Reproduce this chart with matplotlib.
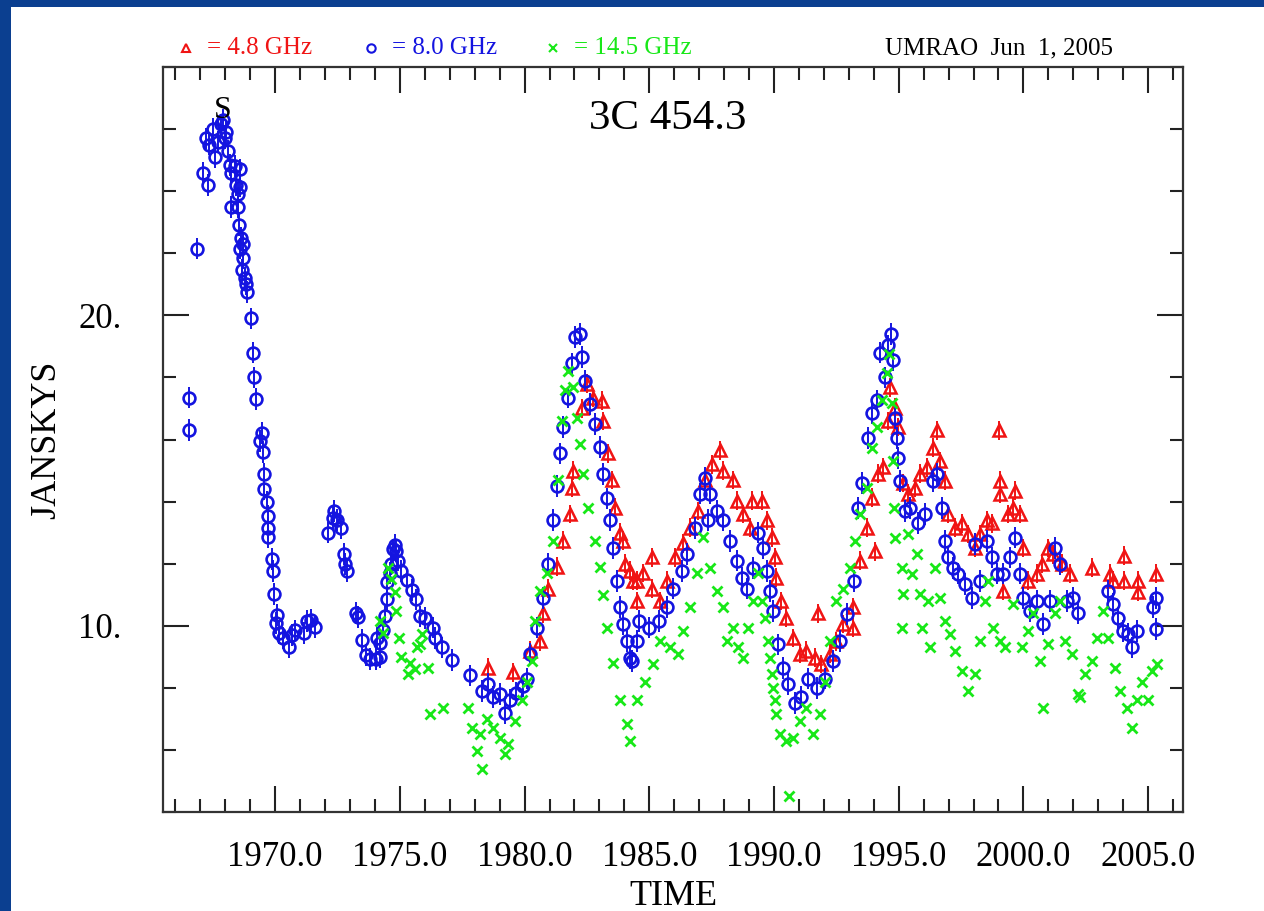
import matplotlib
matplotlib.use("Agg")
import matplotlib.pyplot as plt
from matplotlib.patches import Rectangle
from matplotlib.lines import Line2D
from matplotlib.ticker import MultipleLocator, FixedLocator

plt.rcParams['font.family'] = ['Liberation Serif', 'DejaVu Serif']

# 8.0 GHz (blue)
t_8 = [1966.55, 1966.55, 1966.85, 1967.1, 1967.3, 1967.23, 1967.36, 1967.5, 1967.6, 1967.7,
       1967.83, 1967.9, 1967.97, 1968.04, 1968.1, 1968.17, 1968.24, 1968.24, 1968.37, 1968.44,
       1968.5, 1968.51, 1968.54, 1968.58, 1968.58, 1968.58, 1968.62, 1968.65, 1968.72, 1968.72,
       1968.78, 1968.82, 1968.88, 1969.02, 1969.09, 1969.16, 1969.22, 1969.39, 1969.46, 1969.5,
       1969.55, 1969.56, 1969.66, 1969.7, 1969.73, 1969.73, 1969.89, 1969.93, 1969.96, 1970.04,
       1970.07, 1970.16, 1970.31, 1970.54, 1970.67, 1970.8, 1971.15, 1971.28, 1971.44, 1971.58,
       1972.12, 1972.3, 1972.37, 1972.46, 1972.64, 1972.77, 1972.8, 1972.86, 1973.24, 1973.33,
       1973.48, 1973.64, 1973.82, 1974.05, 1974.1, 1974.19, 1974.2, 1974.32, 1974.39, 1974.5,
       1974.5, 1974.59, 1974.66, 1974.72, 1974.79, 1974.86, 1974.93, 1975.06, 1975.27, 1975.47,
       1975.63, 1975.8, 1976.0, 1976.33, 1976.4, 1976.7, 1977.1, 1977.8, 1978.3, 1978.55,
       1978.75, 1979.0, 1979.2, 1979.4, 1979.65, 1979.92, 1980.1, 1980.2, 1980.5, 1980.74,
       1980.94, 1981.14, 1981.3, 1981.42, 1981.54, 1981.74, 1981.9, 1982.02, 1982.22, 1982.3,
       1982.42, 1982.62, 1982.82, 1983.02, 1983.14, 1983.3, 1983.42, 1983.55, 1983.7, 1983.82,
       1983.94, 1984.1, 1984.22, 1984.3, 1984.5, 1984.6, 1985.0, 1985.4, 1985.7, 1985.95,
       1986.3, 1986.5, 1986.83, 1987.03, 1987.23, 1987.35, 1987.43, 1987.7, 1987.95, 1988.23,
       1988.5, 1988.7, 1988.9, 1989.16, 1989.36, 1989.56, 1989.7, 1989.83, 1989.96, 1990.16,
       1990.36, 1990.56, 1990.83, 1991.1, 1991.37, 1991.72, 1992.04, 1992.36, 1992.64, 1992.93,
       1993.2, 1993.37, 1993.53, 1993.77, 1993.93, 1994.13, 1994.25, 1994.45, 1994.57, 1994.69,
       1994.77, 1994.85, 1994.93, 1994.97, 1995.05, 1995.25, 1995.45, 1995.77, 1996.05, 1996.37,
       1996.53, 1996.73, 1996.86, 1996.98, 1997.18, 1997.38, 1997.66, 1997.94, 1998.06, 1998.26,
       1998.54, 1998.74, 1998.94, 1999.18, 1999.46, 1999.66, 1999.86, 1999.98, 2000.26, 2000.54,
       2000.78, 2001.06, 2001.26, 2001.46, 2001.74, 2001.98, 2002.18, 2003.4, 2003.6, 2003.8,
       2004.0, 2004.2, 2004.36, 2004.56, 2005.2, 2005.32, 2005.32]
jy_8 = [17.35, 16.3, 22.15, 24.6, 24.2, 25.7, 25.5, 26.0, 25.1, 25.6,
        26.15, 26.3, 25.7, 25.9, 25.3, 24.85, 24.6, 23.5, 24.8, 24.2,
        23.5, 23.9, 22.9, 24.7, 24.15, 22.15, 22.5, 21.45, 22.3, 21.85,
        21.2, 21.0, 20.75, 19.9, 18.8, 18.0, 17.3, 15.95, 16.2, 15.6,
        14.9, 14.4, 14.0, 13.55, 13.15, 12.85, 12.15, 11.77, 11.03, 10.1,
        10.35, 9.77, 9.6, 9.3, 9.7, 9.85, 9.77, 10.15, 10.2, 9.97,
        13.0, 13.46, 13.7, 13.4, 13.15, 12.3, 12.0, 11.77, 10.4, 10.28,
        9.54, 9.05, 8.92, 8.92, 9.6, 9.0, 9.46, 9.85, 10.3, 10.85,
        11.4, 11.7, 12.0, 12.46, 12.6, 12.4, 12.1, 11.77, 11.46, 11.15,
        10.85, 10.3, 10.26, 9.94, 9.6, 9.3, 8.9, 8.4, 7.9, 8.13,
        7.7, 7.8, 7.2, 7.6, 7.84, 8.05, 8.3, 9.1, 9.94, 10.9,
        12.0, 13.4, 14.5, 15.55, 16.4, 17.35, 18.45, 19.3, 19.4, 18.65,
        17.9, 17.15, 16.5, 15.75, 14.9, 14.1, 13.4, 12.5, 11.45, 10.6,
        10.06, 9.5, 8.97, 8.87, 9.5, 10.16, 9.94, 10.16, 10.6, 11.2,
        11.77, 12.3, 13.16, 14.26, 14.77, 13.4, 14.26, 13.7, 13.4, 12.74,
        12.1, 11.55, 11.2, 11.87, 13.0, 12.5, 11.77, 11.13, 10.48, 9.4,
        8.65, 8.13, 7.5, 7.7, 8.3, 8.0, 8.3, 8.87, 9.5, 10.39,
        11.45, 13.8, 14.6, 16.06, 16.84, 17.26, 18.8, 18.0, 19.03, 19.4,
        18.55, 16.7, 16.06, 15.4, 14.67, 13.7, 13.8, 13.3, 13.6, 14.67,
        14.9, 13.8, 12.74, 12.2, 11.87, 11.68, 11.35, 10.9, 12.64, 11.45,
        12.74, 12.2, 11.68, 11.68, 12.2, 12.84, 11.68, 10.9, 10.48, 10.8,
        10.06, 10.8, 12.5, 12.0, 10.8, 10.9, 10.4, 11.13, 10.7, 10.26,
        9.84, 9.74, 9.3, 9.84, 10.6, 10.9, 9.9]

# 4.8 GHz (red)
t_48 = [1978.53, 1979.53, 1980.2, 1980.6, 1980.74, 1980.94, 1981.3, 1981.54, 1981.82, 1981.9,
        1981.94, 1982.3, 1982.5, 1982.74, 1983.1, 1983.14, 1983.34, 1983.5, 1983.62, 1983.82,
        1983.94, 1984.02, 1984.22, 1984.35, 1984.5, 1984.5, 1984.75, 1985.1, 1985.1, 1985.43,
        1985.7, 1986.03, 1986.35, 1986.63, 1986.95, 1987.23, 1987.5, 1987.83, 1987.95, 1988.36,
        1988.5, 1988.76, 1989.03, 1989.1, 1989.5, 1989.7, 1989.9, 1990.04, 1990.1, 1990.3,
        1990.5, 1990.76, 1991.04, 1991.3, 1991.63, 1991.76, 1991.9, 1992.23, 1992.5, 1992.77,
        1993.17, 1993.17, 1993.45, 1993.73, 1993.93, 1994.05, 1994.17, 1994.37, 1994.57, 1994.65,
        1994.85, 1994.97, 1995.17, 1995.37, 1995.65, 1995.85, 1996.13, 1996.37, 1996.53, 1996.65,
        1996.86, 1996.98, 1997.26, 1997.54, 1997.78, 1998.06, 1998.26, 1998.54, 1998.74, 1999.02,
        1999.06, 1999.06, 1999.18, 1999.38, 1999.58, 1999.66, 1999.86, 1999.98, 2000.18, 2000.54,
        2000.74, 2000.98, 2001.18, 2001.54, 2001.86, 2002.75, 2003.47, 2003.6, 2004.04, 2004.04,
        2004.6, 2004.6, 2005.32]
jy_48 = [8.65, 8.5, 9.2, 9.5, 10.4, 11.2, 11.9, 12.74, 13.6, 14.45,
         15.0, 17.0, 17.8, 17.35, 17.25, 16.6, 15.55, 14.7, 13.8, 13.0,
         12.74, 12.0, 11.77, 11.45, 10.8, 11.45, 11.7, 12.2, 11.2, 10.8,
         11.45, 12.2, 12.65, 13.16, 13.7, 14.7, 15.2, 15.65, 15.0, 14.7,
         14.03, 13.6, 13.16, 14.03, 14.03, 13.4, 12.85, 12.2, 11.55, 10.8,
         10.26, 9.6, 9.1, 9.2, 8.97, 10.4, 8.77, 9.1, 9.5, 10.06,
         10.6, 9.94, 12.1, 13.16, 14.13, 12.4, 14.9, 15.1, 16.6, 17.68,
         17.03, 16.4, 14.6, 14.26, 14.45, 14.9, 15.1, 15.74, 16.3, 15.3,
         14.67, 13.6, 13.16, 13.3, 12.96, 12.5, 12.96, 13.4, 13.3, 16.3,
         14.67, 14.26, 11.13, 13.6, 13.8, 14.35, 13.6, 12.5, 11.45, 11.68,
         12.0, 12.5, 12.3, 12.0, 11.68, 11.87, 11.68, 11.45, 12.26, 11.45,
         11.45, 11.1, 11.68]

# 14.5 GHz (green)
t_145 = [1974.19, 1974.32, 1974.52, 1974.66, 1974.8, 1974.86, 1974.96, 1975.04, 1975.33, 1975.4,
         1975.6, 1975.7, 1975.8, 1975.9, 1976.13, 1976.2, 1976.73, 1977.73, 1977.9, 1978.1,
         1978.2, 1978.3, 1978.5, 1978.73, 1979.0, 1979.2, 1979.33, 1979.6, 1979.9, 1980.1,
         1980.3, 1980.42, 1980.6, 1980.9, 1981.14, 1981.34, 1981.5, 1981.62, 1981.74, 1981.94,
         1982.1, 1982.22, 1982.34, 1982.54, 1982.82, 1983.02, 1983.14, 1983.3, 1983.55, 1983.82,
         1984.1, 1984.22, 1984.5, 1984.83, 1985.16, 1985.43, 1985.83, 1986.16, 1986.36, 1986.63,
         1986.9, 1987.16, 1987.43, 1987.7, 1987.95, 1988.1, 1988.36, 1988.56, 1988.76, 1988.96,
         1989.16, 1989.36, 1989.5, 1989.63, 1989.76, 1989.83, 1989.9, 1989.96, 1990.03, 1990.1,
         1990.23, 1990.5, 1990.6, 1990.76, 1991.04, 1991.3, 1991.56, 1991.84, 1992.04, 1992.23,
         1992.5, 1992.77, 1993.05, 1993.25, 1993.45, 1993.73, 1993.93, 1994.13, 1994.33, 1994.53,
         1994.61, 1994.73, 1994.77, 1994.81, 1994.85, 1995.13, 1995.13, 1995.17, 1995.37, 1995.53,
         1995.73, 1995.85, 1995.93, 1996.17, 1996.25, 1996.45, 1996.65, 1996.86, 1997.06, 1997.26,
         1997.54, 1997.78, 1998.06, 1998.26, 1998.46, 1998.58, 1998.78, 1999.06, 1999.26, 1999.58,
         1999.94, 2000.18, 2000.38, 2000.66, 2000.78, 2000.98, 2001.26, 2001.46, 2001.66, 2001.94,
         2002.18, 2002.26, 2002.46, 2002.75, 2002.96, 2003.2, 2003.4, 2003.67, 2003.87, 2004.16,
         2004.36, 2004.56, 2004.76, 2005.0, 2005.16, 2005.36]
jy_145 = [10.15, 9.77, 11.85, 11.5, 11.1, 10.46, 9.6, 9.0, 8.46, 8.8,
          8.6, 9.3, 9.4, 9.74, 8.65, 7.16, 7.35, 7.35, 6.7, 5.97,
          6.5, 5.4, 7.0, 6.7, 6.4, 5.87, 6.2, 6.94, 7.6, 8.2,
          8.87, 10.16, 11.13, 11.7, 12.74, 14.7, 16.6, 17.58, 18.2, 17.7,
          16.7, 15.87, 14.9, 13.8, 12.74, 11.9, 11.0, 9.94, 8.8, 7.6,
          6.84, 6.3, 7.6, 8.2, 8.77, 9.5, 9.3, 9.1, 9.84, 10.6,
          11.7, 12.85, 11.87, 11.13, 10.6, 9.5, 9.94, 9.3, 8.97, 9.94,
          10.8, 11.7, 10.8, 10.26, 9.5, 8.97, 8.45, 8.0, 7.6, 7.16,
          6.5, 6.3, 4.5, 6.4, 6.94, 7.35, 6.5, 7.16, 8.2, 9.5,
          10.8, 11.2, 11.87, 12.74, 13.6, 14.45, 15.74, 16.4, 17.26, 18.13,
          18.77, 17.16, 15.3, 13.8, 12.84, 11.87, 9.94, 11.03, 12.96, 11.68,
          12.3, 11.03, 9.94, 10.8, 9.3, 11.87, 10.9, 10.16, 9.74, 9.2,
          8.55, 7.9, 8.45, 9.5, 10.8, 11.45, 9.94, 9.5, 9.3, 10.7,
          9.3, 9.84, 10.4, 8.87, 7.35, 9.4, 10.4, 10.8, 9.5, 9.1,
          7.8, 7.7, 8.45, 8.87, 9.6, 10.48, 9.6, 8.65, 7.9, 7.35,
          6.7, 7.6, 8.2, 7.6, 8.55, 8.77]

err_8 = 0.35
err_48 = 0.3

RED = '#f01414'
BLUE = '#1414e0'
GREEN = '#18e818'

W, H = 1264, 911
fig = plt.figure(figsize=(W / 100, H / 100), dpi=100, facecolor='#0b3f90')
fig.add_artist(Rectangle((11 / W, 0), 1, 1 - 7 / H, transform=fig.transFigure,
                         facecolor='white', edgecolor='none', zorder=-10))

ax = fig.add_axes([163 / W, 1 - 812 / H, 1020 / W, 745 / H])
ax.set_facecolor('white')

ax.errorbar(t_48, jy_48, yerr=err_48, fmt='^', mfc='none', mec=RED, ecolor=RED,
            ms=9, mew=1.8, elinewidth=1.4, capsize=0, zorder=2)
ax.errorbar(t_8, jy_8, yerr=err_8, fmt='o', mfc='none', mec=BLUE, ecolor=BLUE,
            ms=8.5, mew=1.9, elinewidth=1.4, capsize=0, zorder=3)
ax.plot(t_145, jy_145, 'x', color=GREEN, ms=7.5, mew=2.0, zorder=4)

ax.set_xlim(1965.5, 2006.4)
ax.set_ylim(4, 28)

ax.xaxis.set_major_locator(MultipleLocator(5))
ax.xaxis.set_minor_locator(MultipleLocator(1))
ax.yaxis.set_major_locator(FixedLocator([10, 20]))
ax.yaxis.set_minor_locator(MultipleLocator(2))
ax.xaxis.set_major_formatter(lambda v, p: f"{v:.1f}")
ax.yaxis.set_major_formatter(lambda v, p: f"{v:.0f}.")

ax.tick_params(which='both', direction='in', top=True, right=True, color='#222222',
               width=1.5, labelsize=25)
ax.tick_params(which='major', length=19)
ax.tick_params(which='minor', length=9.5)
ax.tick_params(axis='x', which='major', pad=21)
ax.tick_params(axis='y', which='major', pad=30)
for s in ax.spines.values():
    s.set_linewidth(1.6)
    s.set_color('#333333')

ax.set_xlabel('TIME', fontsize=26, labelpad=4)
ax.set_ylabel('JANSKYS', fontsize=26)
ax.yaxis.set_label_coords(-100 / 1020, 0.5)

ax.text(1967.9, 26.6, 'S', fontsize=23, ha='center', va='center', zorder=5)
ax.text(0.495, 0.931, '3C 454.3', transform=ax.transAxes, fontsize=31,
        ha='center', va='center')

# key along the top
ty = 1 - 48 / H
for mx, mk, col, lab in [(186, '^', RED, '= 4.8 GHz'), (371, 'o', BLUE, '= 8.0 GHz'),
                         (553, 'x', GREEN, '= 14.5 GHz')]:
    fig.add_artist(Line2D([mx / W], [ty], marker=mk, color=col, mfc='none', mew=1.5,
                          ms=6, transform=fig.transFigure))
    fig.text((mx + 21) / W, ty, lab, color=col, fontsize=18, ha='left', va='center')
fig.text(1113 / W, ty, 'UMRAO  Jun  1, 2005', color='black', fontsize=18,
         ha='right', va='center')

fig.savefig('out.png', dpi=100, facecolor=fig.get_facecolor())
